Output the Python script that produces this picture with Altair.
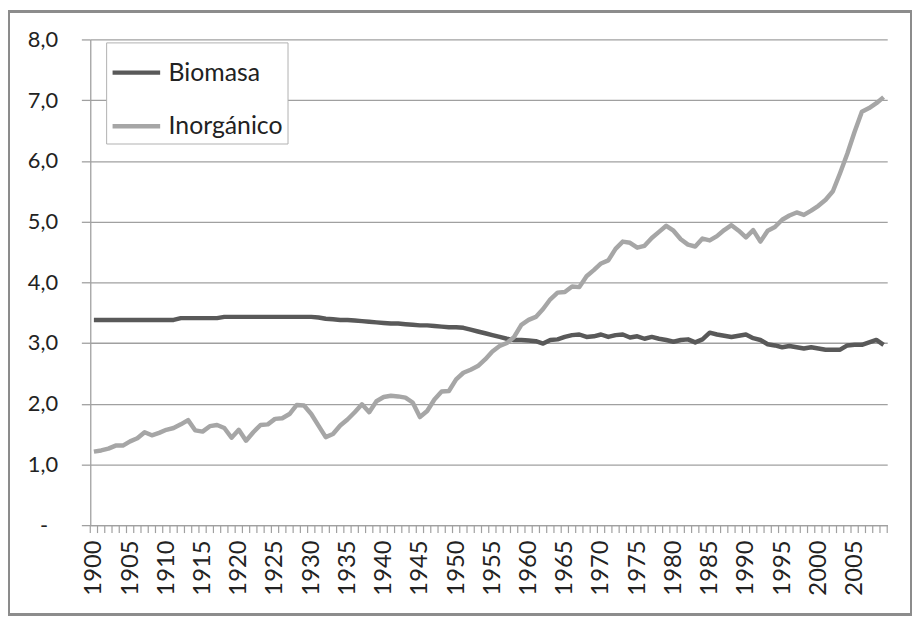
import altair as alt
import pandas as pd

years = list(range(1900, 2010))

biomasa = [
    3.38, 3.38, 3.38, 3.38, 3.38, 3.38, 3.38, 3.38, 3.38, 3.38,  # 1900-1909
    3.38, 3.38, 3.41, 3.41, 3.41, 3.41, 3.41, 3.41, 3.43, 3.43,  # 1910-1919
    3.43, 3.43, 3.43, 3.43, 3.43, 3.43, 3.43, 3.43, 3.43, 3.43,  # 1920-1929
    3.43, 3.42, 3.40, 3.39, 3.38, 3.38, 3.37, 3.36, 3.35, 3.34,  # 1930-1939
    3.33, 3.32, 3.32, 3.31, 3.30, 3.29, 3.29, 3.28, 3.27, 3.26,  # 1940-1949
    3.26, 3.25, 3.22, 3.19, 3.16, 3.13, 3.10, 3.07, 3.05, 3.05,  # 1950-1959
    3.04, 3.03, 2.99, 3.05, 3.06, 3.10, 3.13, 3.14, 3.10, 3.11,  # 1960-1969
    3.14, 3.10, 3.13, 3.14, 3.09, 3.11, 3.07, 3.10, 3.07, 3.05,  # 1970-1979
    3.02, 3.05, 3.06, 3.01, 3.06, 3.17, 3.14, 3.12, 3.10, 3.12,  # 1980-1989
    3.14, 3.08, 3.05, 2.98, 2.96, 2.93, 2.95, 2.93, 2.91, 2.93,  # 1990-1999
    2.91, 2.89, 2.89, 2.89, 2.96, 2.97, 2.97, 3.01, 3.05, 2.97,  # 2000-2009
]

inorganico = [
    1.21, 1.23, 1.26, 1.31, 1.31, 1.38, 1.43, 1.53, 1.48, 1.52,  # 1900-1909
    1.57, 1.60, 1.66, 1.73, 1.56, 1.54, 1.63, 1.65, 1.60, 1.44,  # 1910-1919
    1.57, 1.39, 1.53, 1.65, 1.66, 1.75, 1.76, 1.83, 1.98, 1.97,  # 1920-1929
    1.83, 1.64, 1.45, 1.50, 1.64, 1.74, 1.86, 1.99, 1.86, 2.04,  # 1930-1939
    2.11, 2.13, 2.12, 2.10, 2.02, 1.78, 1.88, 2.07, 2.20, 2.21,  # 1940-1949
    2.40, 2.51, 2.56, 2.62, 2.73, 2.86, 2.95, 3.00, 3.10, 3.30,  # 1950-1959
    3.38, 3.43, 3.56, 3.72, 3.83, 3.84, 3.93, 3.92, 4.10, 4.20,  # 1960-1969
    4.31, 4.36, 4.55, 4.67, 4.65, 4.57, 4.60, 4.73, 4.83, 4.93,  # 1970-1979
    4.85, 4.71, 4.62, 4.59, 4.72, 4.69, 4.76, 4.86, 4.94, 4.85,  # 1980-1989
    4.74, 4.86, 4.67, 4.85, 4.91, 5.03, 5.10, 5.15, 5.11, 5.18,  # 1990-1999
    5.26, 5.36, 5.50, 5.80, 6.12, 6.48, 6.81, 6.87, 6.95, 7.05,  # 2000-2009
]

series_names = ["Biomasa", "Inorgánico"]
series_colors = ["#595959", "#a6a6a6"]
label_years = list(range(1900, 2010, 5))
y_ticks = [0, 1, 2, 3, 4, 5, 6, 7, 8]

df = pd.DataFrame({
    "year": years * 2,
    "value": biomasa + inorganico,
    "serie": [series_names[0]] * len(years) + [series_names[1]] * len(years),
})

# category boundaries (tick marks between categories, as in the original)
bounds = pd.DataFrame({"b": [years[0] - 0.5 + i for i in range(len(years) + 1)]})

W, H = 804, 490
GRID = "#a0a0a0"

x_scale = alt.Scale(domain=[years[0] - 0.5, years[-1] + 0.5], nice=False, zero=False)
y_scale = alt.Scale(domain=[0, 8], nice=False)

x_axis = alt.Axis(values=label_years, format="d", labelAngle=270,
                  labelAlign="right", labelBaseline="middle",
                  labelPadding=15, ticks=False, grid=False,
                  labelFlush=False, labelOverlap=False,
                  domainColor=GRID, domainWidth=1.3,
                  labelFontSize=24, labelFont="Lato", labelColor="#222")

lines = alt.Chart(df).mark_line(strokeWidth=4.5, strokeJoin="round").encode(
    x=alt.X("year:Q", scale=x_scale, title=None, axis=x_axis),
    y=alt.Y("value:Q", scale=y_scale, title=None,
            axis=alt.Axis(values=y_ticks, grid=True, gridColor=GRID, gridWidth=1.3,
                          tickColor=GRID, tickSize=9, tickWidth=1.3,
                          domainColor=GRID, domainWidth=1.3,
                          labelPadding={"condition": {"test": "datum.value == 0", "value": 34}, "value": 24},
                          labelFontSize=22, labelFont="Lato",
                          labelColor="#222",
                          labelExpr="datum.value == 0 ? '-' : replace(format(datum.value, '.1f'), '.', ',')")),
    color=alt.Color("serie:N", title=None,
                    scale=alt.Scale(domain=series_names, range=series_colors),
                    legend=alt.Legend(orient="none", legendX=16, legendY=3,
                                      symbolType="stroke", symbolSize=2304,
                                      symbolStrokeWidth=4.5, labelOffset=6,
                                      rowPadding=14, padding=4,
                                      strokeColor="#b0b0b0", fillColor="white",
                                      labelFontSize=25, labelFont="Lato",
                                      labelColor="#222", labelLimit=300)),
    order=alt.Order("year:Q"),
)

ticks = alt.Chart(bounds).mark_rule(color=GRID, strokeWidth=1.2).encode(
    x=alt.X("b:Q", scale=x_scale, title=None, axis=x_axis),
    y=alt.value(H),
    y2=alt.value(H + 8),
)

frame = alt.Chart(bounds).mark_rect(fill=None, stroke="#8c8c8c", strokeWidth=2).encode(
    x=alt.value(-82),
    x2=alt.value(W + 24),
    y=alt.value(-28),
    y2=alt.value(H + 90),
)

chart = alt.layer(frame, lines, ticks).properties(
    width=W, height=H,
    padding={"left": 83, "top": 29, "right": 25, "bottom": 94},
    autosize=alt.AutoSizeParams(type="none"),
).configure_view(stroke=None)

chart.save("out.html", embed_options={"renderer": "svg", "actions": False})
